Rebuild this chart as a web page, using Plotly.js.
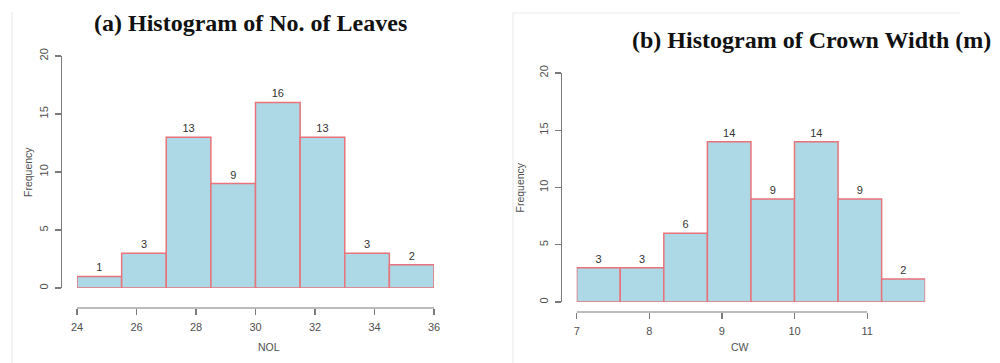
<!DOCTYPE html>
<html>
<head>
<meta charset="utf-8">
<script src="https://cdn.plot.ly/plotly-3.0.1.min.js"></script>
<style>html,body{margin:0;padding:0;background:#fff}#chart{width:1000px;height:363px}</style>
</head>
<body>
<div id="chart"></div>
<script>
// Panel (a): No. of Leaves
const nolBinStarts = [24, 25.5, 27, 28.5, 30, 31.5, 33, 34.5];
const nolBinWidth = 1.5;
const nolCounts = [1, 3, 13, 9, 16, 13, 3, 2];
const nolTicks = [24, 26, 28, 30, 32, 34, 36];

// Panel (b): Crown Width
const cwBinStarts = [7.0, 7.6, 8.2, 8.8, 9.4, 10.0, 10.6, 11.2];
const cwBinWidth = 0.6;
const cwCounts = [3, 3, 6, 14, 9, 14, 9, 2];
const cwTicks = [7, 8, 9, 10, 11];

const freqTicks = [0, 5, 10, 15, 20];

const W = 1000, H = 363;
const px = v => v / W, py = v => 1 - v / H;

const fillCol = '#add8e6', edgeCol = '#e8737a';
const axisCol = '#7a7a7a', tickFontCol = '#505050';
const sans = 'Liberation Sans, Arial, sans-serif';

function barTrace(starts, width, counts, xa, ya) {
  return {
    type: 'bar',
    x: starts.map(s => s + width / 2),
    y: counts,
    width: starts.map(() => width),
    xaxis: xa, yaxis: ya,
    marker: {color: fillCol, line: {color: edgeCol, width: 1.5}},
    text: counts.map(String),
    textposition: 'outside',
    textfont: {family: sans, size: 11, color: '#333'},
    cliponaxis: false,
    hoverinfo: 'x+y',
    showlegend: false
  };
}

const data = [
  barTrace(nolBinStarts, nolBinWidth, nolCounts, 'x', 'y'),
  barTrace(cwBinStarts, cwBinWidth, cwCounts, 'x2', 'y2')
];

const xCommon = {
  showgrid: false, zeroline: false, showline: false,
  ticks: 'outside', ticklen: 6, tickcolor: axisCol, tickwidth: 1.2,
  tickfont: {family: sans, size: 11, color: tickFontCol},
  ticklabelstandoff: 3,
  anchor: 'free', fixedrange: true
};
const yCommon = {
  showgrid: false, zeroline: false, showline: true, linecolor: axisCol, linewidth: 1.2,
  ticks: 'outside', ticklen: 6, tickcolor: axisCol, tickwidth: 1.2,
  tickfont: {family: sans, size: 11, color: tickFontCol},
  tickangle: -90, ticklabelstandoff: 3,
  tickmode: 'array', tickvals: freqTicks, ticktext: freqTicks.map(String),
  range: [0, 20], anchor: 'free', fixedrange: true
};

// pixel geometry of the two panels
const A = {x0: 77, x1: 434, y0: 288, y1: 56, yAxisX: 61, xAxisY: 308};
const B = {x0: 576.7, x1: 925.2, y0: 302, y1: 73, yAxisX: 561, xAxisY: 312};

const nolRange = [nolBinStarts[0], nolBinStarts[nolBinStarts.length - 1] + nolBinWidth];
const cwRange = [cwBinStarts[0], cwBinStarts[cwBinStarts.length - 1] + cwBinWidth];

const layout = {
  width: W, height: H,
  margin: {l: 0, r: 0, t: 0, b: 0},
  paper_bgcolor: '#fff', plot_bgcolor: 'rgba(0,0,0,0)',
  bargap: 0,
  xaxis: Object.assign({}, xCommon, {
    domain: [px(A.x0), px(A.x1)], range: nolRange, position: py(A.xAxisY),
    tickmode: 'array', tickvals: nolTicks, ticktext: nolTicks.map(String)
  }),
  yaxis: Object.assign({}, yCommon, {
    domain: [py(A.y0), py(A.y1)], position: px(A.yAxisX)
  }),
  xaxis2: Object.assign({}, xCommon, {
    domain: [px(B.x0), px(B.x1)], range: cwRange, position: py(B.xAxisY),
    tickmode: 'array', tickvals: cwTicks, ticktext: cwTicks.map(String)
  }),
  yaxis2: Object.assign({}, yCommon, {
    domain: [py(B.y0), py(B.y1)], position: px(B.yAxisX)
  }),
  shapes: [
    // R-style x axis lines spanning first to last tick
    {type: 'line', xref: 'x', yref: 'paper', x0: nolTicks[0], x1: nolTicks[nolTicks.length - 1],
     y0: py(A.xAxisY), y1: py(A.xAxisY), line: {color: axisCol, width: 1.2}},
    {type: 'line', xref: 'x2', yref: 'paper', x0: cwTicks[0], x1: cwTicks[cwTicks.length - 1],
     y0: py(B.xAxisY), y1: py(B.xAxisY), line: {color: axisCol, width: 1.2}},
    // faint panel borders
    {type: 'line', xref: 'paper', yref: 'paper', x0: px(12), x1: px(12), y0: py(12), y1: 0,
     line: {color: '#e6e6e6', width: 1}},
    {type: 'line', xref: 'paper', yref: 'paper', x0: px(513), x1: px(513), y0: py(13), y1: 0,
     line: {color: '#e6e6e6', width: 1}},
    {type: 'line', xref: 'paper', yref: 'paper', x0: px(513), x1: px(960), y0: py(13), y1: py(13),
     line: {color: '#ececec', width: 1}}
  ],
  annotations: [
    {text: '<b>(a) Histogram of No. of Leaves</b>', xref: 'paper', yref: 'paper',
     x: px(250), y: py(23), xanchor: 'center', yanchor: 'middle', showarrow: false,
     font: {family: 'Liberation Serif, Times New Roman, serif', size: 24, color: '#111'}},
    {text: '<b>(b) Histogram of Crown Width (m)</b>', xref: 'paper', yref: 'paper',
     x: px(811), y: py(40), xanchor: 'center', yanchor: 'middle', showarrow: false,
     font: {family: 'Liberation Serif, Times New Roman, serif', size: 24, color: '#111'}},
    {text: 'Frequency', xref: 'paper', yref: 'paper', x: px(20), y: py((A.y0 + A.y1) / 2),
     textangle: -90, showarrow: false, font: {family: sans, size: 10.5, color: tickFontCol}},
    {text: 'Frequency', xref: 'paper', yref: 'paper', x: px(520), y: py((B.y0 + B.y1) / 2),
     textangle: -90, showarrow: false, font: {family: sans, size: 10.5, color: tickFontCol}},
    {text: 'NOL', xref: 'paper', yref: 'paper', x: px((A.x0 + A.x1) / 2), y: py(355),
     showarrow: false, font: {family: sans, size: 10.5, color: tickFontCol}},
    {text: 'CW', xref: 'paper', yref: 'paper', x: px((B.x0 + B.x1) / 2), y: py(355),
     showarrow: false, font: {family: sans, size: 10.5, color: tickFontCol}}
  ]
};

Plotly.newPlot('chart', data, layout, {displayModeBar: false, staticPlot: true});
</script>
</body>
</html>
